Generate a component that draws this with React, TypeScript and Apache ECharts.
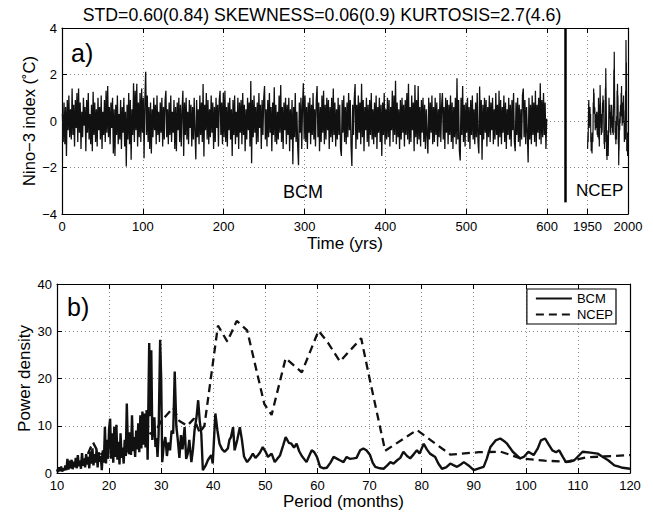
import React, { useEffect, useRef } from "react";
import * as echarts from "echarts";

const FONT = "'Liberation Sans', Arial, Helvetica, sans-serif";

const SUMMARY = "STD=0.60(0.84) SKEWNESS=0.06(0.9) KURTOSIS=2.7(4.6)";

// Time axis: model years 0..600, then the observed 1950..2000 record drawn after a gap
const timeTickValues = [0, 100, 200, 300, 400, 500, 600, 650, 700];
const timeTickLabels = ["0", "100", "200", "300", "400", "500", "600", "1950", "2000"];
const NCEP_OFFSET = 650 - 1950; // observed year -> axis position
const SEPARATOR_X = 623;
const SEPARATOR_BOTTOM = -3.5;

// BCM Nino-3 anomaly, one value per model year
const bcmIndex = [
  0.3,-0.9,0.8,-1.0,0.6,-1.5,0.9,-0.4,1.1,-0.7,0.5,-0.8,1.4,-0.6,0.7,-1.1,0.9,-0.3,1.2,-0.9,
  1.4,-0.5,0.8,-1.2,0.4,-0.7,1.0,-0.2,0.6,-1.3,0.9,-0.5,1.2,-0.8,0.3,-1.0,0.7,-1.3,1.26,-0.6,
  0.8,-0.9,0.5,-1.1,1.0,-0.4,0.6,-0.8,1.1,-1.2,0.4,-0.6,0.9,-0.9,1.3,-0.5,1.5,-0.7,0.6,-1.0,
  0.8,-0.3,1.0,-1.4,0.5,-1.5,0.7,-0.6,1.1,-1.0,0.3,-0.8,0.9,-1.2,0.6,-0.5,1.0,-1.1,0.4,-1.96,
  0.7,-0.8,1.2,-1.0,0.9,-1.67,0.5,-0.6,1.62,-0.9,1.3,-0.4,1.6,-1.1,0.8,-0.7,1.2,-0.9,1.4,-0.5,
  1.0,-1.6,0.9,2.12,-0.6,1.1,-0.9,0.6,-1.2,0.8,-1.4,0.5,-0.7,1.0,-0.4,0.7,-1.0,1.1,-0.6,0.4,
  -0.9,0.8,-0.5,1.0,-1.1,0.6,-0.8,0.9,1.3,-0.7,0.5,-1.0,0.8,-0.6,1.1,-0.9,0.4,-0.5,0.9,-1.2,
  0.6,-1.3,0.8,-0.4,1.0,-0.9,0.7,-1.1,0.5,1.3,-1.5,0.8,-0.6,1.0,-0.8,0.4,-1.0,0.9,-0.3,0.7,
  -1.1,0.6,-0.8,1.0,-0.5,-1.65,0.9,-0.7,0.5,-1.0,1.1,-0.6,0.8,-0.9,1.59,-1.53,0.7,-0.4,1.2,-0.8,
  0.9,-1.0,0.5,-0.7,1.1,-0.5,0.8,-1.2,0.6,-0.9,1.0,-0.3,0.7,-1.1,0.9,1.3,-0.6,0.8,-1.0,1.2,
  -0.7,1.3,-0.9,0.6,-1.1,0.8,-0.4,1.0,-0.8,0.5,-1.5,0.9,-0.6,1.1,-1.0,0.4,-0.7,1.0,-1.2,0.8,
  -0.5,0.9,-1.0,1.2,-0.6,0.7,-1.3,0.5,-0.8,1.0,-0.4,0.8,-1.1,1.72,-1.82,0.9,-0.7,1.1,-0.5,0.6,
  -1.0,0.8,-0.9,1.2,-0.3,0.7,-1.2,0.9,-0.6,1.0,1.5,-0.8,0.5,-1.1,0.9,-0.7,1.2,-0.5,0.6,-1.3,
  0.8,-0.6,1.45,-0.9,0.7,-1.0,0.4,-0.8,1.1,-0.5,1.55,-0.9,0.6,-1.2,0.8,-0.4,1.0,-1.0,0.7,-0.6,
  1.0,-1.3,0.5,-0.8,0.9,-1.86,0.6,-0.7,1.2,-0.9,0.4,-1.1,-1.9,0.8,-0.5,1.0,-1.2,0.7,1.62,-0.8,
  1.1,-0.9,0.6,-1.2,0.8,-0.5,1.0,-1.0,0.7,-0.6,1.2,-0.8,0.5,-1.1,0.9,1.5,-0.7,0.8,-1.3,0.6,
  -0.9,1.1,-0.5,1.3,-1.0,0.7,-0.8,1.0,-0.4,0.9,-1.2,0.6,-0.7,1.0,-0.9,1.4,-0.6,0.8,-1.1,0.5,
  -0.8,1.0,-0.6,0.7,-1.2,-1.5,0.9,-0.5,1.1,-0.9,0.6,-1.0,0.8,-0.7,1.2,-0.4,0.9,-1.1,-1.93,0.7,
  -0.6,1.0,1.59,-1.2,0.7,-0.8,1.1,-0.5,0.8,-1.0,1.6,-0.7,0.9,-1.3,0.6,-0.4,1.0,-0.9,0.7,-1.1,
  0.9,-0.6,1.2,-0.8,0.5,-1.0,0.8,-0.7,1.1,-1.2,0.6,-0.5,1.0,-0.9,0.7,-1.5,0.8,-0.6,1.2,-1.0,
  0.5,-0.8,1.0,-0.7,0.9,-1.1,0.6,-0.4,1.3,-0.9,1.1,-0.6,1.73,-1.0,0.8,-0.7,0.5,-1.2,0.9,-0.8,
  1.0,-0.5,0.7,-1.1,0.9,-0.6,1.2,-0.8,1.6,-1.0,0.6,-0.9,1.1,-0.4,0.8,-1.3,1.55,-0.7,0.9,-1.0,
  1.5,-0.8,0.6,-1.1,0.9,-0.5,1.0,-0.9,0.7,-1.2,0.5,-0.6,-1.4,1.0,-0.8,0.8,-0.5,1.1,-1.0,0.6,
  -0.9,1.0,-0.6,0.8,-1.1,0.5,-0.7,1.2,-0.9,0.7,1.2,-0.8,0.6,-1.2,1.0,-0.5,0.9,-1.0,0.7,-0.6,
  1.1,-0.9,0.8,-1.2,0.6,-0.7,1.0,-1.0,1.84,-0.8,0.9,-1.3,-1.7,1.0,-0.6,1.5,-0.9,0.7,-1.1,0.8,
  -0.5,1.0,-0.9,0.6,-1.2,0.9,-0.6,1.1,-0.8,0.5,-1.0,0.8,-0.7,1.2,-0.9,-1.4,1.48,-0.6,0.9,-1.67,
  0.7,-0.8,1.0,-0.5,0.9,-1.1,0.6,-0.7,1.1,-0.9,0.8,-0.4,1.0,-1.0,0.5,-0.8,1.2,-0.6,0.7,-1.1,
  1.3,-0.7,0.9,-1.0,0.6,-0.5,1.1,-0.9,0.8,-1.2,0.5,-0.6,1.0,-0.8,0.7,-1.1,0.9,-0.4,1.2,-0.9,
  -1.3,0.8,-0.6,1.0,-0.9,0.7,-1.1,0.5,-0.8,1.1,1.4,-0.7,0.9,-1.0,0.6,-0.5,-1.78,1.0,-0.8,0.7,
  -1.0,1.1,-0.6,0.8,-0.9,1.3,-1.1,0.7,-0.5,1.0,-0.8,1.62,-1.0,0.9,-0.7,1.2,-0.6,0.8,-1.2,0.1,
];

// NCEP Nino-3 anomaly 1950..2000, quarter-year steps (one row per five years)
const ncepStartYear = 1950;
const ncepStep = 0.25;
const ncepIndex = [
  -1.2,-0.8,-0.5,-0.9, 0.1,0.6,0.9,0.5, -0.3,0.2,0.4,-0.1, 0.6,0.2,-0.2,0.3, -0.9,-0.5,-1.3,-0.8,
  -0.7,-1.1,-1.4,-0.9, -0.5,-0.8,-0.9,-0.4, 0.8,0.4,1.4,1.0, 1.2,0.7,0.3,0.6, 0.5,0.0,-0.4,0.2,
  -0.1,0.3,-0.2,0.3, -0.3,0.4,0.2,-0.4, -0.6,-0.1,-0.2,-0.7, 0.4,-0.1,1.0,0.6, -0.8,-0.3,-1.1,-0.6,
  0.7,0.3,1.55,0.9, 0.9,0.2,-0.3,0.3, -0.6,-0.1,0.1,-0.5, -0.4,0.2,0.8,0.4, 1.1,0.5,0.5,0.9,
  0.3,-0.4,-1.0,-0.5, -1.2,-0.7,-0.4,-0.9, 1.4,0.8,2.27,1.5, 1.0,0.2,-1.5,-0.8, -1.68,-1.0,-0.6,-1.2,
  -0.9,-0.4,-1.5,-1.0, -0.4,0.3,1.0,0.5, 0.6,0.1,0.2,0.7, -0.5,0.0,-0.2,-0.6, 0.4,-0.1,0.3,0.7,
  0.5,0.0,-0.3,0.2, -0.5,0.1,-0.2,-0.6, 0.3,0.9,2.2,1.6, 2.98,1.8,0.9,0.2, -0.5,0.0,-0.8,-0.3,
  -1.0,-0.5,-0.4,-0.8, 0.2,-0.2,1.3,0.8, 1.6,1.0,1.1,0.6, -1.0,-0.4,-1.9,-1.3, -1.2,-0.6,0.1,-0.4,
  0.4,-0.1,0.3,0.7, 0.6,0.2,1.2,0.8, 1.5,0.9,0.3,-0.2, 0.8,0.3,-0.1,0.4, 0.2,0.6,1.1,0.5,
  0.4,-0.2,-0.9,-0.4, -0.6,-0.1,-0.4,-0.8, 1.3,0.7,3.48,2.4, 2.5,1.2,-1.3,-0.6, -1.0,-0.5,-1.5,-0.9,
  -0.6,
];

// Power spectra: [period (months), power density]
const bcmSpectrum: [number, number][] = [
  [10.0,0.8],[10.2,0.2],[10.4,1.2],[10.6,0.4],[10.8,1.4],[11.0,0.3],[11.2,1.0],[11.4,0.5],[11.6,1.6],[11.8,0.6],
  [12.0,3.0],[12.2,0.7],[12.4,2.6],[12.6,1.0],[12.8,2.8],[13.0,0.8],[13.2,2.4],[13.4,1.2],[13.6,3.2],[13.8,1.0],
  [14.0,3.8],[14.2,1.4],[14.4,2.6],[14.6,0.9],[14.8,4.2],[15.0,1.5],[15.2,3.0],[15.4,1.2],[15.6,4.0],[15.8,1.8],
  [16.0,3.4],[16.2,1.0],[16.4,4.6],[16.6,2.0],[16.8,5.2],[17.0,1.6],[17.2,4.0],[17.4,2.2],[17.6,5.0],[17.8,1.2],
  [18.0,4.4],[18.2,2.4],[18.4,3.6],[18.6,0.6],[18.8,4.8],[19.0,2.2],[19.2,9.8],[19.4,2.0],[19.6,7.0],[19.8,3.0],
  [20.0,9.4],[20.2,11.5],[20.4,3.0],[20.6,8.4],[20.8,2.2],[21.0,9.8],[21.2,3.4],[21.4,10.2],[21.6,2.8],[21.8,6.6],
  [22.0,1.8],[22.2,8.4],[22.4,3.2],[22.6,5.4],[22.8,2.0],[23.0,7.0],[23.2,3.6],[23.4,14.7],[23.6,6.0],[23.8,4.0],
  [24.0,8.6],[24.2,3.8],[24.4,12.2],[24.6,4.6],[24.8,7.6],[25.0,3.4],[25.2,9.0],[25.4,5.0],[25.6,10.5],[25.8,4.4],
  [26.0,12.2],[26.2,5.2],[26.4,13.0],[26.6,6.0],[26.8,12.6],[27.0,5.4],[27.2,13.3],[27.4,2.8],[27.7,27.5],[27.9,12.0],
  [28.1,26.0],[28.3,7.0],[28.5,9.8],[28.7,11.8],[28.9,5.5],[29.1,7.4],[29.3,3.4],[29.5,8.0],[29.8,28.2],[30.0,20.0],
  [30.2,2.3],[30.5,6.0],[30.8,7.6],[31.1,3.6],[31.4,6.5],[31.7,4.8],[32.0,9.0],[32.3,8.3],[32.6,21.5],[32.9,10.0],
  [33.2,6.9],[33.5,3.2],[33.8,8.0],[34.1,5.0],[34.5,9.7],[34.8,3.0],[35.1,4.1],[35.4,7.0],[35.8,2.3],[36.1,5.0],
  [36.4,9.0],[36.8,12.0],[37.1,15.4],[37.4,11.0],[37.7,8.3],[38.0,0.6],[38.5,1.5],[39.0,2.8],[39.6,3.8],[39.9,2.0],
  [40.4,12.6],[40.8,9.0],[41.2,6.2],[41.7,5.0],[42.2,4.5],[42.8,5.2],[43.1,7.0],[43.4,7.6],[43.8,9.7],[44.1,4.8],
  [44.6,7.0],[45.1,9.7],[45.5,7.0],[45.9,3.5],[46.5,2.3],[47.0,3.0],[47.6,4.1],[48.1,3.2],[48.6,3.8],[49.0,4.4],
  [49.5,5.5],[50.0,4.6],[50.5,3.4],[51.2,4.1],[51.8,2.3],[52.3,3.0],[52.8,3.7],[53.4,5.8],[53.9,7.6],[54.5,6.4],
  [55.0,6.2],[55.5,5.4],[56.0,6.2],[56.5,4.6],[57.0,3.6],[57.9,2.3],[58.4,3.6],[58.9,4.8],[59.4,4.4],[59.9,3.4],
  [60.5,1.3],[61.2,1.0],[61.8,1.1],[62.5,2.2],[63.1,3.4],[63.8,3.0],[64.3,2.7],[65.0,2.3],[65.6,3.4],[66.2,3.0],
  [66.9,3.1],[67.5,3.2],[68.2,4.8],[68.8,5.2],[69.4,4.8],[70.1,3.8],[70.6,2.2],[71.1,1.3],[72.0,1.0],[72.7,0.9],
  [73.4,1.6],[74.0,2.3],[74.6,2.0],[75.3,2.7],[75.9,3.2],[76.5,4.5],[77.2,3.6],[77.8,3.1],[78.5,4.0],[79.1,4.8],
  [79.6,4.1],[80.4,6.2],[81.0,5.0],[81.6,4.1],[82.6,3.4],[83.2,2.0],[83.9,0.9],[84.7,1.2],[85.5,2.0],[86.2,1.6],
  [86.8,1.3],[87.5,1.8],[88.1,2.3],[89.0,1.6],[90.0,0.6],[91.0,1.0],[91.9,1.3],[92.5,3.0],[93.2,5.5],[94.2,6.9],
  [95.1,7.3],[96.0,6.6],[96.4,6.2],[97.5,4.5],[98.9,3.1],[99.6,3.4],[100.5,4.5],[101.5,3.8],[102.3,5.2],[102.9,6.9],
  [103.7,7.3],[104.4,6.0],[105.1,4.8],[105.8,4.4],[106.4,4.8],[107.1,3.4],[107.7,2.3],[108.5,2.4],[109.3,2.7],[110.1,3.6],
  [110.9,4.5],[112.4,4.3],[113.8,4.1],[114.8,3.4],[115.8,2.7],[117.0,1.6],[117.7,1.4],[118.6,1.1],[120.0,0.9],
];

const ncepSpectrum: [number, number][] = [
  [12.0,1.0],[14.0,2.0],[15.5,3.0],[16.9,6.5],[17.6,5.0],[19.0,3.5],[21.0,5.0],[23.0,4.0],[25.0,7.0],[27.0,9.0],
  [28.5,8.0],[30.0,11.0],[32.3,13.8],[33.5,11.0],[35.0,10.0],[36.3,11.5],[37.4,8.5],[38.3,10.0],[40.9,31.2],[42.7,27.8],
  [44.5,32.2],[46.5,30.2],[49.8,14.6],[51.2,12.3],[53.9,24.3],[57.0,21.3],[60.2,30.1],[62.0,27.6],[64.3,23.6],[68.4,28.5],
  [70.0,20.0],[73.0,4.7],[79.1,9.1],[85.5,3.9],[91.0,4.4],[95.2,4.5],[99.0,3.1],[103.6,2.6],[107.9,2.4],[111.5,3.3],
  [120.0,3.8],
];

const gridLine = { show: true, lineStyle: { color: "#8a8a8a", type: [1, 3] as number[], width: 1 } };
const frameLine = { show: true, onZero: false, lineStyle: { color: "#000", width: 1.2 } };
const tickIn = { show: true, inside: true, length: 5, lineStyle: { color: "#000", width: 1 } };
const labelStyle = { color: "#000", fontSize: 13, fontFamily: FONT };
const minusFmt = (v: number) => (v < 0 ? "\u2212" + Math.abs(v) : String(v));

function textEl(text: string, x: number, y: number, size: number, align = "left") {
  return {
    type: "text",
    x,
    y,
    silent: true,
    style: {
      text,
      fill: "#000",
      font: `${size}px ${FONT}`,
      align,
      verticalAlign: "middle",
      textAlign: align,
      textVerticalAlign: "middle",
    },
  };
}

export default function App() {
  const ref = useRef<HTMLDivElement>(null);

  useEffect(() => {
    if (!ref.current) return;
    const chart = echarts.init(ref.current, undefined, { renderer: "svg" });

    const bcmData = bcmIndex.map((v, i) => [i + 0.5, v]);
    const ncepData = ncepIndex.map((v, i) => [ncepStartYear + i * ncepStep + NCEP_OFFSET, v]);

    const option = {
      animation: false,
      backgroundColor: "#fff",
      textStyle: { fontFamily: FONT, color: "#000" },
      grid: [
        { left: 62, right: 25, top: 28, height: 186 },
        { left: 57, right: 23, top: 284, height: 189 },
      ],
      xAxis: [
        {
          gridIndex: 0,
          type: "value",
          min: 0,
          max: 700,
          position: "bottom",
          axisLine: frameLine,
          axisTick: { ...tickIn, customValues: timeTickValues },
          axisLabel: {
            ...labelStyle,
            margin: 6,
            customValues: timeTickValues,
            formatter: (v: number) => timeTickLabels[timeTickValues.indexOf(v)] ?? "",
          },
          splitLine: gridLine,
          name: "Time (yrs)",
          nameLocation: "middle",
          nameGap: 21,
          nameMoveOverlap: false,
          nameTextStyle: { fontSize: 17, color: "#000", fontFamily: FONT, verticalAlign: "top" },
        },
        {
          gridIndex: 0,
          type: "value",
          min: 0,
          max: 700,
          position: "top",
          axisLine: frameLine,
          axisTick: { ...tickIn, customValues: timeTickValues },
          axisLabel: { show: false, customValues: timeTickValues },
          splitLine: { show: false },
        },
        {
          gridIndex: 1,
          type: "value",
          min: 10,
          max: 120,
          interval: 10,
          position: "bottom",
          axisLine: frameLine,
          axisTick: tickIn,
          axisLabel: { ...labelStyle, margin: 6 },
          splitLine: gridLine,
          name: "Period (months)",
          nameLocation: "middle",
          nameGap: 20,
          nameMoveOverlap: false,
          nameTextStyle: { fontSize: 17, color: "#000", fontFamily: FONT, verticalAlign: "top" },
        },
        {
          gridIndex: 1,
          type: "value",
          min: 10,
          max: 120,
          interval: 10,
          position: "top",
          axisLine: frameLine,
          axisTick: tickIn,
          axisLabel: { show: false },
          splitLine: { show: false },
        },
      ],
      yAxis: [
        {
          gridIndex: 0,
          type: "value",
          min: -4,
          max: 4,
          interval: 2,
          position: "left",
          axisLine: frameLine,
          axisTick: tickIn,
          axisLabel: { ...labelStyle, margin: 5, formatter: minusFmt },
          splitLine: gridLine,
          name: "Nino\u22123 index (\u02daC)",
          nameLocation: "middle",
          nameGap: 25,
          nameMoveOverlap: false,
          nameTextStyle: { fontSize: 16.5, color: "#000", fontFamily: FONT },
        },
        {
          gridIndex: 0,
          type: "value",
          min: -4,
          max: 4,
          interval: 2,
          position: "right",
          axisLine: frameLine,
          axisTick: tickIn,
          axisLabel: { show: false },
          splitLine: { show: false },
        },
        {
          gridIndex: 1,
          type: "value",
          min: 0,
          max: 40,
          interval: 10,
          position: "left",
          axisLine: frameLine,
          axisTick: tickIn,
          axisLabel: { ...labelStyle, margin: 5 },
          splitLine: gridLine,
          name: "Power density",
          nameLocation: "middle",
          nameGap: 24,
          nameMoveOverlap: false,
          nameTextStyle: { fontSize: 17, color: "#000", fontFamily: FONT },
        },
        {
          gridIndex: 1,
          type: "value",
          min: 0,
          max: 40,
          interval: 10,
          position: "right",
          axisLine: frameLine,
          axisTick: tickIn,
          axisLabel: { show: false },
          splitLine: { show: false },
        },
      ],
      legend: {
        data: ["BCM", "NCEP"],
        orient: "vertical",
        right: 37,
        top: 289,
        itemWidth: 36,
        itemHeight: 12,
        itemGap: 3,
        padding: [3, 3, 3, 8],
        borderColor: "#000",
        borderWidth: 1.2,
        borderRadius: 0,
        backgroundColor: "#fff",
        itemStyle: { color: "transparent", borderColor: "transparent", borderWidth: 0, opacity: 0 },
        textStyle: { color: "#000", fontSize: 13, fontFamily: FONT },
        selectedMode: false,
      },
      graphic: [
        textEl(SUMMARY, 322, 15, 17.7, "center"),
        textEl("a)", 71, 53, 25),
        textEl("BCM", 283, 192, 18),
        textEl("NCEP", 576, 190, 17),
        textEl("b)", 67, 307, 25),
      ],
      series: [
        {
          name: "BCM index",
          type: "line",
          xAxisIndex: 0,
          yAxisIndex: 0,
          data: bcmData,
          symbol: "none",
          lineStyle: { color: "#111", width: 1.3 },
          silent: true,
        },
        {
          name: "NCEP index",
          type: "line",
          xAxisIndex: 0,
          yAxisIndex: 0,
          data: ncepData,
          symbol: "none",
          lineStyle: { color: "#111", width: 1.2 },
          silent: true,
          markLine: {
            silent: true,
            symbol: "none",
            label: { show: false },
            lineStyle: { color: "#000", width: 2.5, type: "solid" },
            data: [[{ coord: [SEPARATOR_X, SEPARATOR_BOTTOM] }, { coord: [SEPARATOR_X, 4] }]],
          },
        },
        {
          name: "BCM",
          type: "line",
          xAxisIndex: 2,
          yAxisIndex: 2,
          data: bcmSpectrum,
          symbol: "none",
          lineStyle: { color: "#111", width: 2.4 },
          itemStyle: { color: "#111" },
          silent: true,
        },
        {
          name: "NCEP",
          type: "line",
          xAxisIndex: 2,
          yAxisIndex: 2,
          data: ncepSpectrum,
          symbol: "none",
          lineStyle: { color: "#111", width: 2.3, type: [8, 5] },
          itemStyle: { color: "#111" },
          silent: true,
        },
      ],
    };

    chart.setOption(option as any);
    return () => chart.dispose();
  }, []);

  return (
    <div
      ref={ref}
      style={{ position: "absolute", left: 0, top: 0, width: 653, height: 513, background: "#fff" }}
    />
  );
}
